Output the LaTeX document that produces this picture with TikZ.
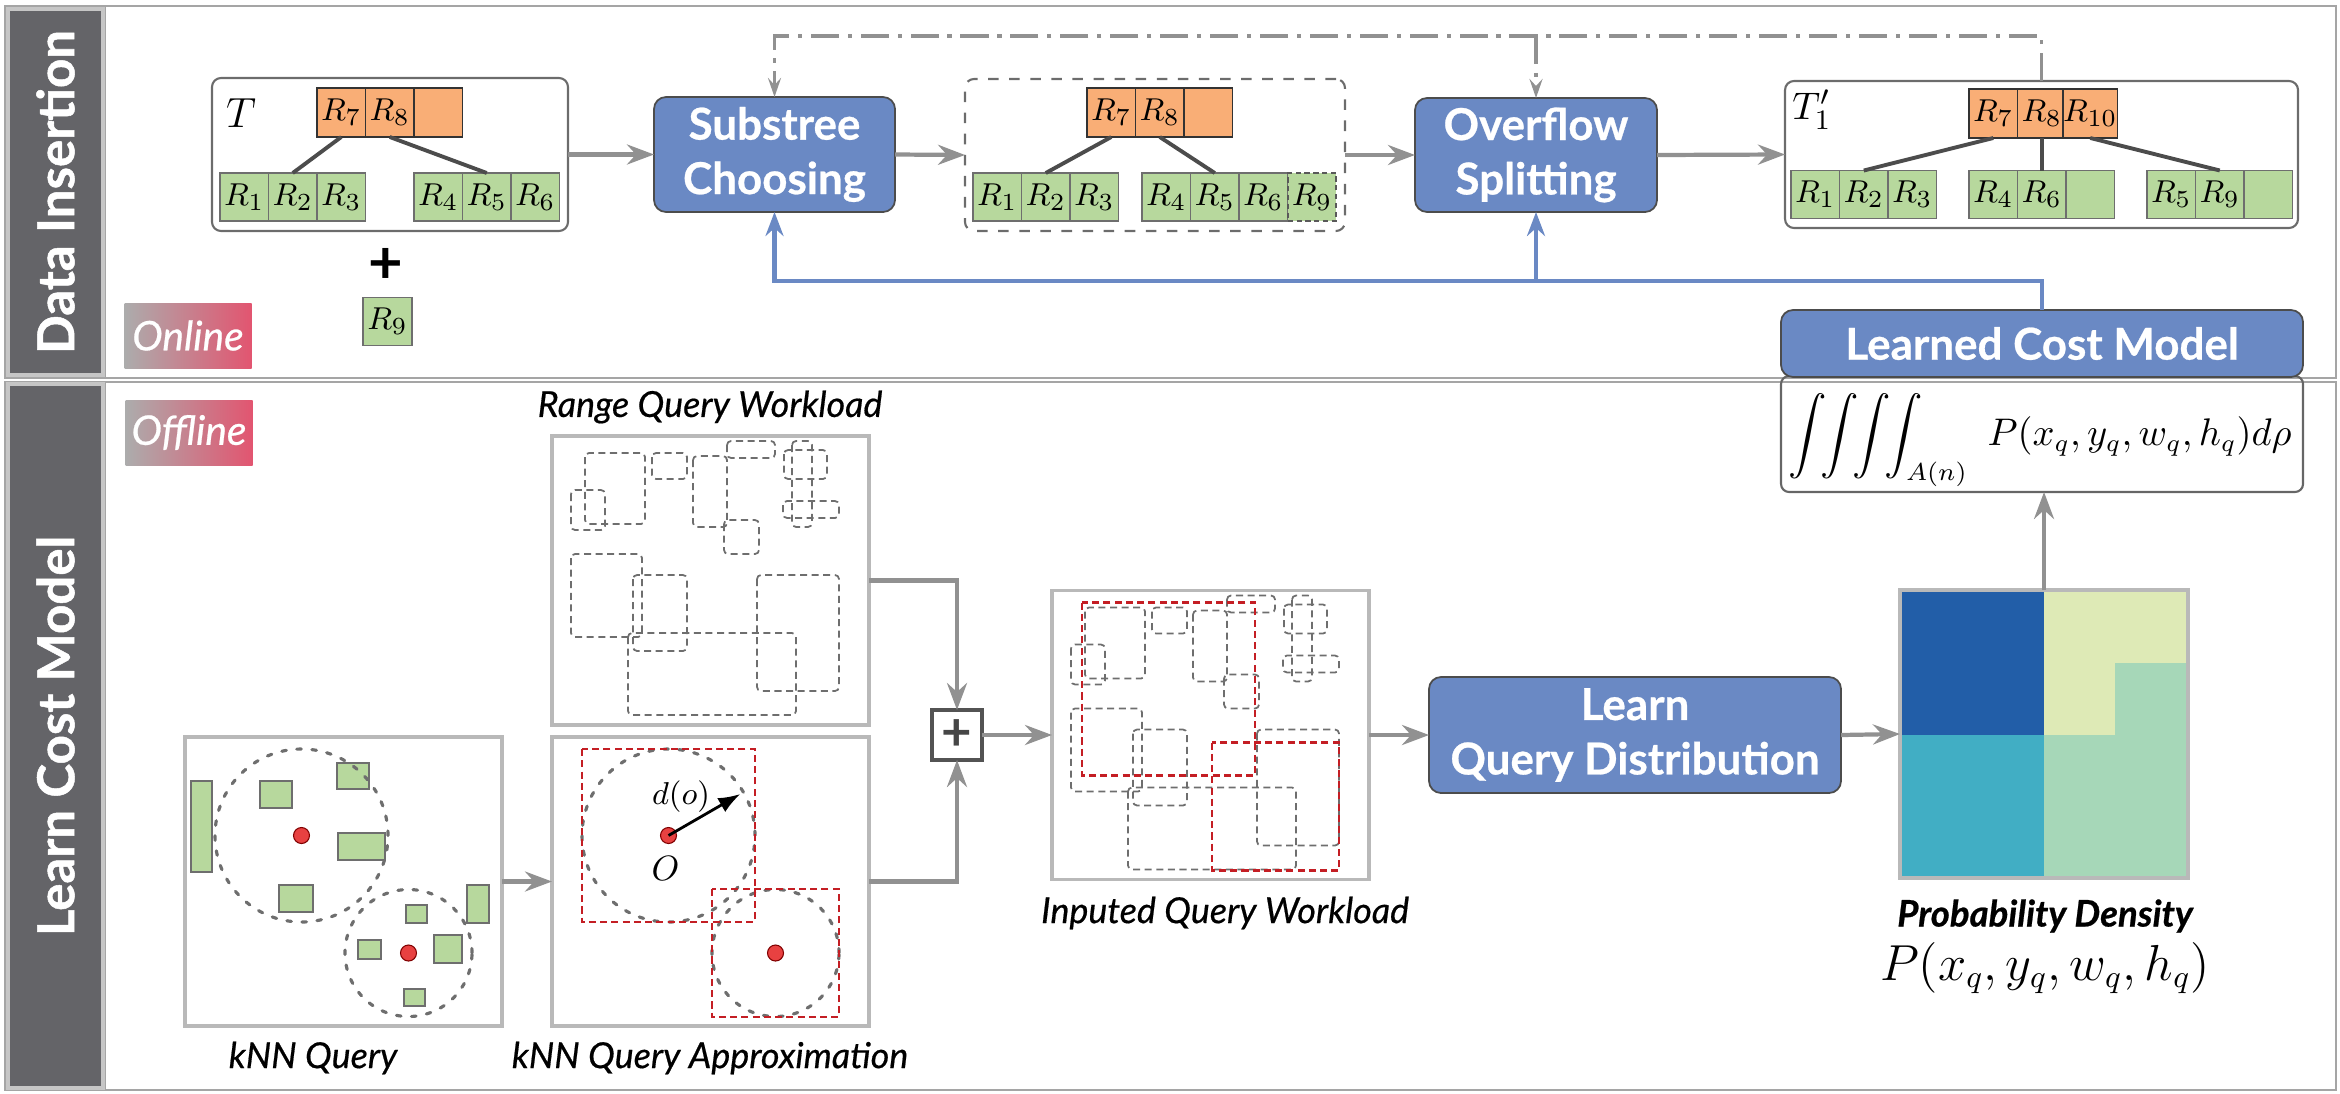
\documentclass[tikz,border=0pt]{standalone}
\usepackage{amsmath}
\usepackage{fontspec}
\setsansfont{Lato}
\usetikzlibrary{arrows.meta,calc}

\definecolor{bargray}{RGB}{100,100,104}
\definecolor{framegray}{RGB}{165,165,165}
\definecolor{boxblue}{RGB}{106,137,196}
\definecolor{arrowgray}{RGB}{145,145,145}
\definecolor{rootorange}{RGB}{249,174,118}
\definecolor{leafgreen}{RGB}{183,216,157}
\definecolor{cellgray}{RGB}{110,110,110}
\definecolor{qred}{RGB}{196,30,36}
\definecolor{qgray}{RGB}{110,110,110}
\definecolor{dotred}{RGB}{232,65,65}
\definecolor{badgered}{RGB}{226,85,112}
\definecolor{hmblue}{RGB}{34,94,168}
\definecolor{hmyellow}{RGB}{222,234,182}
\definecolor{hmteal}{RGB}{65,174,196}
\definecolor{hmmint}{RGB}{166,215,184}

% query rectangles of the range workload (offsets inside a plot box)
\newcommand{\workrects}{33/17/93/88, 19/54/53/94, 100/17/135/43, 141/20/175/91,
  175/5/223/22, 172/84/207/118, 232/14/275/43, 240/5/260/91, 231/65/287/82,
  19/118/90/201, 81/139/135/215, 76/197/244/279, 205/139/287/255}

\tikzset{
  every node/.style={inner sep=0pt, outer sep=0pt},
  panel/.style={draw=framegray, line width=0.8pt},
  sidebar/.style={fill=bargray, draw=gray!45, line width=1pt, rotate=90, text=white,
    minimum height=9.5mm, font=\sffamily\bfseries\fontsize{14.5}{17}\selectfont\addfontfeatures{FakeBold=1}},
  badge/.style={left color=gray!65, right color=badgered, minimum width=12.7mm,
    minimum height=6.5mm, text=white, font=\sffamily\itshape\fontsize{11.6}{13}\selectfont\addfontfeatures{FakeBold=0.6}},
  stepbox/.style={draw=gray!60!black, fill=boxblue, rounded corners=1.2mm, text=white,
    align=center, line width=0.5pt, font=\sffamily\bfseries\fontsize{12.5}{15.5}\selectfont\addfontfeatures{FakeBold=0.6}},
  treebox/.style={draw=gray!85!black, rounded corners=0.9mm, line width=0.6pt},
  rootcell/.style={draw=black!80, fill=rootorange, minimum width=4.85mm, minimum height=4.9mm,
    line width=0.5pt, font=\fontsize{9.3}{11}\selectfont},
  leafcell/.style={draw=cellgray, fill=leafgreen, minimum width=4.85mm, minimum height=4.8mm,
    line width=0.5pt, font=\fontsize{9.3}{11}\selectfont},
  branch/.style={draw=gray!60!black, line width=1.1pt},
  flow/.style={draw=arrowgray, line width=1.2pt, -{Stealth[length=2.7mm,width=2mm,inset=0.9mm]}},
  feedback/.style={draw=boxblue, line width=1.4pt, -{Stealth[length=2.4mm,width=1.8mm,inset=0.8mm]}},
  update/.style={draw=arrowgray, line width=1pt, dash pattern=on 8pt off 2.5pt on 1.2pt off 2.5pt,
    -{Stealth[length=1.9mm,width=1.3mm,inset=0.7mm]}},
  plotbox/.style={draw=gray!55, line width=1pt, minimum width=31.7mm, minimum height=28.9mm},
  query/.style={draw=qgray, dash pattern=on 2pt off 1.3pt, line width=0.5pt, rounded corners=0.4mm},
  redquery/.style={draw=qred, dash pattern=on 2pt off 1.2pt, line width=0.6pt},
  reach/.style={draw=qgray, line width=0.9pt, dash pattern=on 1.3pt off 3pt, line cap=round},
  obj/.style={draw=cellgray, fill=leafgreen, line width=0.4pt},
  qpoint/.style={circle, draw=red!50!black, fill=dotred, line width=0.3pt, minimum size=1.6mm},
  caption/.style={font=\sffamily\itshape\fontsize{10.2}{12}\selectfont\addfontfeatures{FakeBold=0.5}},
}

\begin{document}
\begin{tikzpicture}[x=0.1mm,y=-0.1mm]
  \useasboundingbox (0,0) rectangle (2340,1093);

  % panels
  \draw[panel] (5,6) rectangle (2336,378);
  \draw[panel] (5,382) rectangle (2336,1090);
  \draw[panel] (105,6) -- (105,378);
  \draw[panel] (105,382) -- (105,1090);
  \node[sidebar, minimum width=36.6mm] (side1) at (55.5,192) {Data Insertion};
  \node[sidebar, minimum width=70.4mm] (side2) at (55.5,736) {Learn Cost Model};

  \node[badge] (online) at (188,335.5) {Online};
  \node[badge] (offline) at (189,432.5) {Offline};

  % ---------------- data insertion ----------------
  % tree T
  \node[treebox, minimum width=35.6mm, minimum height=15.3mm] (tree0) at (390,154.5) {};
  \node[font=\fontsize{11.5}{13}\selectfont] (tlab0) at (241,113) {$T$};
  \foreach \t [count=\i] in {R_7,R_8,{}}
    \node[rootcell] (t0r\i) at ({292.75+48.5*\i},112.5) {$\t$};
  \foreach \t [count=\i] in {R_1,R_2,R_3}
    \node[leafcell] (t0a\i) at ({195.75+48.5*\i},197) {$\t$};
  \foreach \t [count=\i] in {R_4,R_5,R_6}
    \node[leafcell] (t0b\i) at ({389.75+48.5*\i},197) {$\t$};
  \draw[branch] (t0r1.south) -- (t0a2.north);
  \draw[branch] (t0r2.south) -- (t0b2.north);

  \node[font=\sffamily\bfseries\fontsize{17}{19}\selectfont] (plusins) at (386,266) {+};
  \node[leafcell] (newr) at (387.5,321.5) {$R_9$};

  \node[stepbox, minimum width=24.1mm, minimum height=11.5mm] (choose) at (774.5,154.5) {Substree\\Choosing};

  % tree after choosing
  \node[treebox, dashed, minimum width=38mm, minimum height=15.2mm] (treem) at (1155,155) {};
  \foreach \t [count=\i] in {R_7,R_8,{}}
    \node[rootcell] (tmr\i) at ({1062.75+48.5*\i},112.5) {$\t$};
  \foreach \t [count=\i] in {R_1,R_2,R_3}
    \node[leafcell] (tma\i) at ({948.75+48.5*\i},197) {$\t$};
  \foreach \t [count=\i] in {R_4,R_5,R_6}
    \node[leafcell] (tmb\i) at ({1117.75+48.5*\i},197) {$\t$};
  \node[leafcell, draw=gray!70!black, dash pattern=on 1.5pt off 1pt] (tmb4) at (1312,197) {$R_9$};
  \draw[branch] (tmr1.south) -- (tma2.north);
  \draw[branch] (tmr2.south) -- (tmb2.north);

  \node[stepbox, minimum width=24.2mm, minimum height=11.4mm] (split) at (1536,155) {Overflow\\Splitting};

  % tree T1'
  \node[treebox, minimum width=51.3mm, minimum height=14.7mm] (tree1) at (2041.5,154.5) {};
  \node[font=\fontsize{11}{13}\selectfont] (tlab1) at (1812,110) {$T_1'$};
  \foreach \t [count=\i] in {R_7,R_8,R_{10}}
    \node[rootcell] (t1r\i) at ({1944.75+48.5*\i},113.5) {$\t$};
  \foreach \t [count=\i] in {R_1,R_2,R_3}
    \node[leafcell] (t1a\i) at ({1766.75+48.5*\i},194.5) {$\t$};
  \foreach \t [count=\i] in {R_4,R_6,{}}
    \node[leafcell] (t1b\i) at ({1944.75+48.5*\i},194.5) {$\t$};
  \foreach \t [count=\i] in {R_5,R_9,{}}
    \node[leafcell] (t1c\i) at ({2122.75+48.5*\i},194.5) {$\t$};
  \draw[branch] (t1r1.south) -- (t1a2.north);
  \draw[branch] (t1r2.south) -- (t1b2.north);
  \draw[branch] (t1r3.south) -- (t1c2.north);

  \draw[flow] (tree0.east) -- (choose.west);
  \draw[flow] (choose.east) -- (treem.west);
  \draw[flow] (treem.east) -- (split.west);
  \draw[flow] (split.east) -- (tree1.west);

  % updated tree fed back
  \coordinate (upd) at (2041.5,36);
  \draw[update] (tree1.north) -- (upd) -| (choose.north);
  \draw[update] (split.north |- upd) -- (split.north);

  % cost model
  \node[draw=gray!80!black, rounded corners=0.8mm, line width=0.6pt, minimum width=52.2mm,
    minimum height=11.6mm] (integ) at (2042,434) {};
  \node[font=\fontsize{10.5}{12}\selectfont] (integf) at (2040,440)
    {$\displaystyle\int\!\!\int\!\!\int\!\!\int_{A(n)}\hspace{0.35em}P(x_q,y_q,w_q,h_q)d\rho$};
  \node[stepbox, minimum width=52.2mm, minimum height=6.7mm] (cost) at (2042,343.5) {Learned Cost Model};
  \coordinate (fb) at (2042,281);
  \draw[feedback] (cost.north) -- (fb) -| (choose.south);
  \draw[feedback] (split.south |- fb) -- (split.south);

  % ---------------- learn cost model ----------------
  \node[caption] (rangelab) at (710,407) {Range Query Workload};
  \node[plotbox] (range) at (710.5,580.5) {};
  \begin{scope}[shift={(range.north west)}]
    \foreach \xa/\ya/\xb/\yb in \workrects
      \draw[query] (\xa,\ya) rectangle (\xb,\yb);
  \end{scope}

  % kNN queries
  \node[plotbox] (knn) at (343.5,881.5) {};
  \node[caption] (knnlab) at (313,1058) {kNN Query};
  \begin{scope}[shift={(knn.north west)}]
    \foreach \xa/\ya/\xb/\yb in {6/44/27/135, 75/44/107/71, 152/26/184/52, 153/96/200/123,
      94/148/128/175, 221/168/242/186, 282/148/304/186, 173/203/196/222, 249/198/277/226, 219/252/240/269}
      \draw[obj] (\xa,\ya) rectangle (\xb,\yb);
    \draw[reach] (116.5,98.5) circle (8.65mm);
    \draw[reach] (223.5,216) circle (6.35mm);
    \node[qpoint] (kc1) at (116.5,98.5) {};
    \node[qpoint] (kc2) at (223.5,216) {};
  \end{scope}

  \node[plotbox] (approx) at (710.5,881.5) {};
  \node[caption] (approxlab) at (710,1058) {kNN Query Approximation};
  \begin{scope}[shift={(approx.north west)}]
    \draw[reach] (116.5,98.5) circle (8.65mm);
    \draw[reach] (223.5,216) circle (6.35mm);
    \draw[redquery] (30,12) rectangle (203,185);
    \draw[redquery] (160,152) rectangle (287,280);
    \node[qpoint] (ac1) at (116.5,98.5) {};
    \node[qpoint] (ac2) at (223.5,216) {};
    \coordinate (rim) at ($(ac1)+(30:8.3mm)$);
    \draw[line width=0.8pt, -{Latex[length=2.2mm,width=1.6mm]}] (ac1.center) -- (rim);
    \node[font=\fontsize{8.8}{10}\selectfont] (dlab) at (129,60) {$d(o)$};
    \node[font=\fontsize{10}{11}\selectfont] (olab) at (113.5,131.5) {$O$};
  \end{scope}

  \node[draw=gray!65!black, line width=1pt, minimum size=5mm, text=gray!55!black,
    font=\sffamily\bfseries\fontsize{15}{17}\selectfont] (merge) at (957,735) {+};

  \node[plotbox] (inputed) at (1210.5,735) {};
  \node[caption] (inputedlab) at (1225,913) {Inputed Query Workload};
  \begin{scope}[shift={(inputed.north west)}]
    \foreach \xa/\ya/\xb/\yb in \workrects
      \draw[query] (\xa,\ya) rectangle (\xb,\yb);
    \draw[redquery] (30,12) rectangle (203,185);
    \draw[redquery] (160,152) rectangle (287,280);
  \end{scope}

  \node[stepbox, minimum width=41.2mm, minimum height=11.6mm] (learn) at (1635,735) {Learn\\Query Distribution};

  % probability density grid
  \begin{scope}[shift={(1900,590)}]
    \fill[hmblue] (0,0) rectangle (144,145);
    \fill[hmyellow] (144,0) rectangle (288,145);
    \fill[hmteal] (0,145) rectangle (144,288);
    \fill[hmmint] (144,145) rectangle (288,288);
    \fill[hmmint] (215,73) rectangle (288,146);
  \end{scope}
  \node[draw=gray!55, line width=1pt, minimum size=28.8mm] (heat) at (2044,734) {};
  \node[font=\sffamily\bfseries\itshape\fontsize{10.4}{12}\selectfont\addfontfeatures{FakeBold=0.6}] (heatlab) at (2045,916) {Probability Density};
  \node[font=\fontsize{13.5}{15}\selectfont] (heatfun) at (2045,968) {$P(x_q,y_q,w_q,h_q)$};

  \draw[flow] (range.east) -| (merge.north);
  \draw[flow] (approx.east) -| (merge.south);
  \draw[flow] (knn.east) -- (approx.west);
  \draw[flow] (merge.east) -- (inputed.west);
  \draw[flow] (inputed.east) -- (learn.west);
  \draw[flow] (learn.east) -- (heat.west);
  \draw[flow] (heat.north) -- (heat.north |- integ.south);
\end{tikzpicture}
\end{document}
